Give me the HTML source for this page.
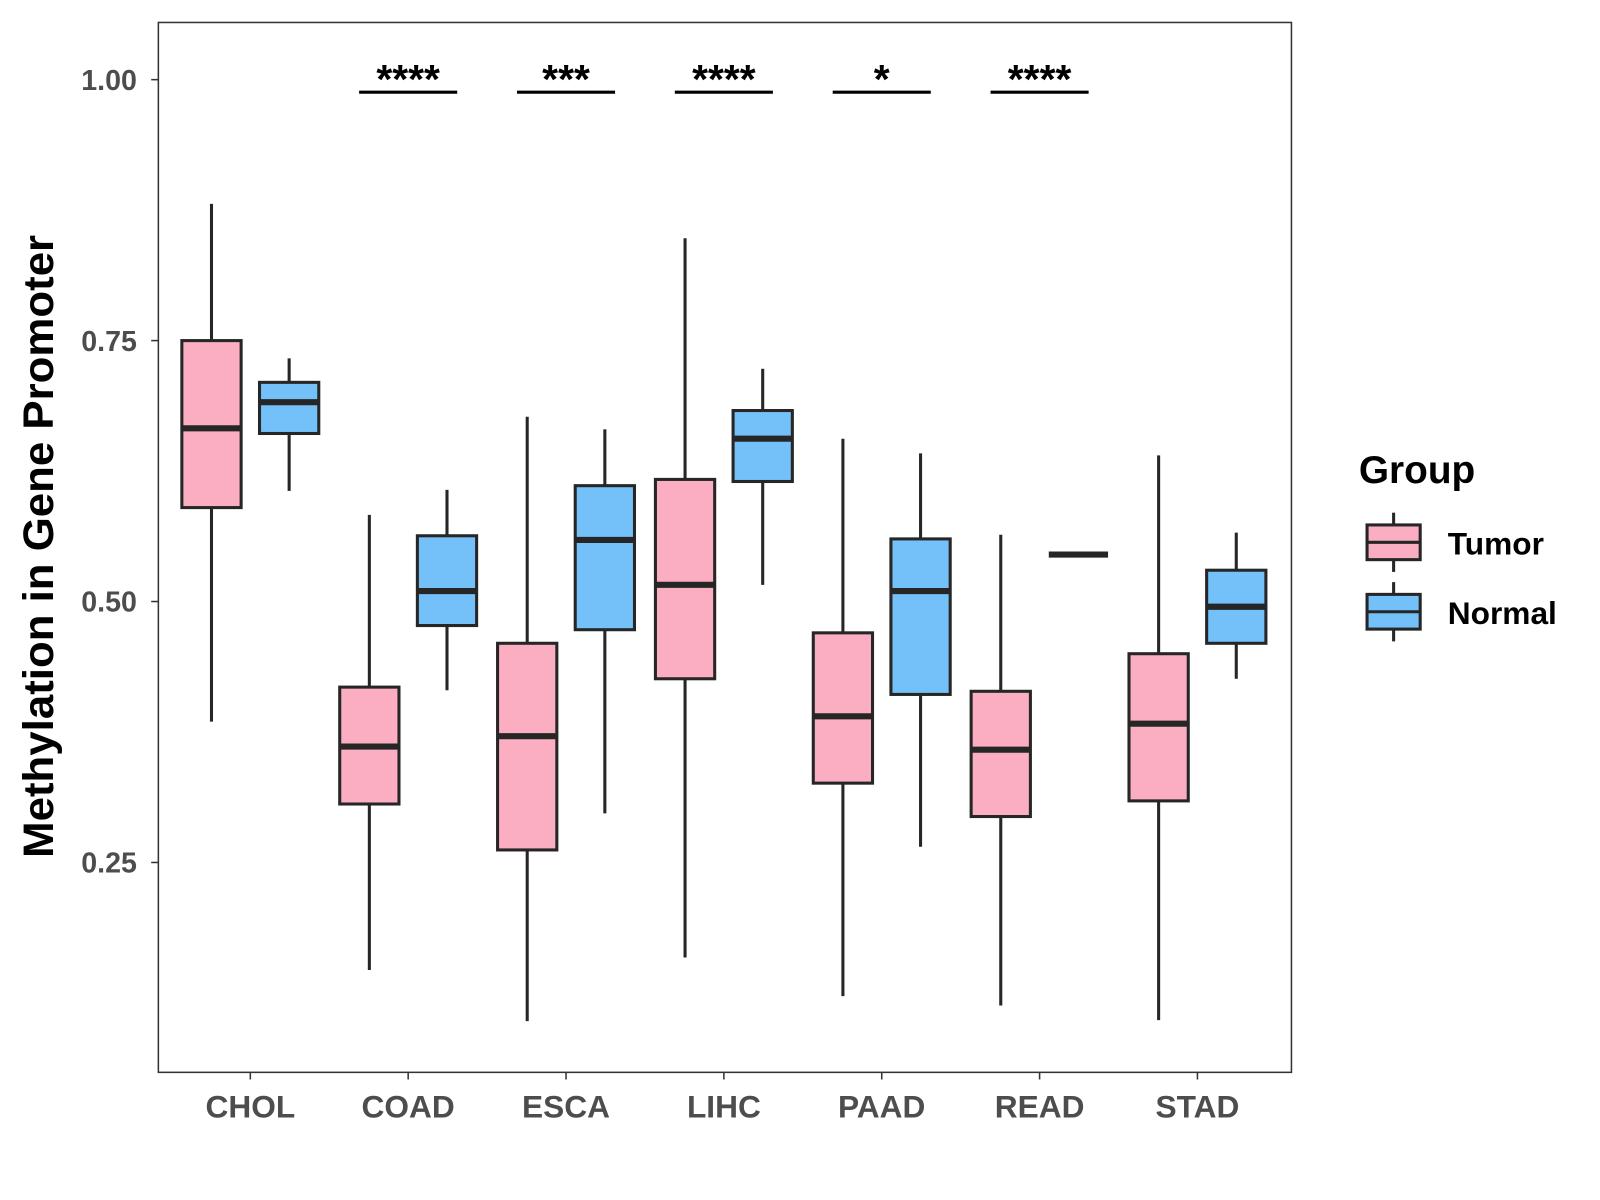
<!DOCTYPE html>
<html><head><meta charset="utf-8"><style>
html,body{margin:0;padding:0;background:#fff;}
svg{display:block;font-family:"Liberation Sans",Arial,sans-serif;}
</style></head><body>
<svg id="chart" width="1600" height="1200" viewBox="0 0 1566 1175" preserveAspectRatio="none">
<rect x="155" y="22" width="1109" height="1028" fill="#fff" stroke="#333" stroke-width="1.5"/>
<g id="axes"></g><g id="boxes"></g><g id="sig"></g>
<text x="52" y="535" transform="rotate(-90 52 535)" text-anchor="middle" font-size="42" font-weight="bold" fill="#000" textLength="610" lengthAdjust="spacingAndGlyphs">Methylation in Gene Promoter</text>
<g>
<text x="1330" y="473" font-size="38" font-weight="bold" fill="#000">Group</text>
<g>
<line x1="1364" y1="502" x2="1364" y2="560" stroke="#262626" stroke-width="3"/>
<rect x="1338" y="514" width="52" height="34" fill="#FBAEC1" stroke="#262626" stroke-width="3"/>
<line x1="1338" y1="531" x2="1390" y2="531" stroke="#262626" stroke-width="3"/>
<text x="1417" y="543" font-size="31" font-weight="bold" fill="#000">Tumor</text></g>
<g>
<line x1="1364" y1="570" x2="1364" y2="628" stroke="#262626" stroke-width="3"/>
<rect x="1338" y="582" width="52" height="34" fill="#74C0F8" stroke="#262626" stroke-width="3"/>
<line x1="1338" y1="599" x2="1390" y2="599" stroke="#262626" stroke-width="3"/>
<text x="1417" y="611" font-size="31" font-weight="bold" fill="#000">Normal</text></g>
</g>
</svg>
<script>
const categories=["CHOL","COAD","ESCA","LIHC","PAAD","READ","STAD"];
// [whiskerLow, Q1, median, Q3, whiskerHigh]
const tumorStats=[[0.385,0.590,0.666,0.750,0.881],[0.147,0.306,0.361,0.418,0.583],[0.098,0.262,0.371,0.460,0.677],[0.159,0.426,0.516,0.617,0.848],[0.122,0.326,0.390,0.470,0.656],[0.113,0.294,0.358,0.414,0.564],[0.099,0.309,0.383,0.450,0.640]];
const normalStats=[[0.606,0.661,0.691,0.710,0.733],[0.415,0.477,0.510,0.563,0.607],[0.297,0.473,0.559,0.611,0.665],[0.516,0.615,0.656,0.683,0.723],[0.265,0.411,0.510,0.560,0.642],[0.545,0.545,0.545,0.545,0.545],[0.426,0.460,0.495,0.530,0.566]];
const yTicks=[0.25,0.50,0.75,1.00];
const yTickLabels=["0.25","0.50","0.75","1.00"];
const sigLabels=["","****","***","****","*","****",""];
const sigLevel=0.988;

const NS="http://www.w3.org/2000/svg";
function y(v){return 78+(1-v)*1022;}
function x(i){return 245+i*154.5;}
function mk(tag,attrs,parent,text){const e=document.createElementNS(NS,tag);for(const k in attrs)e.setAttribute(k,attrs[k]);if(text!==undefined)e.textContent=text;parent.appendChild(e);return e;}
const axes=document.getElementById('axes'),boxes=document.getElementById('boxes'),sig=document.getElementById('sig');
yTicks.forEach((t,i)=>{
  const l=mk('line',{x1:148,x2:155,y1:y(t),y2:y(t),stroke:'#333','stroke-width':1.5},axes);
  
  
  const tx=mk('text',{x:134,y:y(t)+10,'text-anchor':'end','font-size':28,'font-weight':'bold',fill:'#4d4d4d'},axes,yTickLabels[i]);
  
  
});
categories.forEach((c,i)=>{
  const l=mk('line',{x1:x(i),x2:x(i),y1:1050,y2:1057,stroke:'#333','stroke-width':1.5},axes);
  
  
  const tx=mk('text',{x:x(i),y:1094,'text-anchor':'middle','font-size':31,'font-weight':'bold',fill:'#4d4d4d'},axes,c);
  
  
});
function drawBox(s,cx,fill,name){
  const g=mk('g',{},boxes);
  
  
  const st={stroke:'#262626','stroke-width':3};
  mk('line',Object.assign({x1:cx,x2:cx,y1:y(s[4]),y2:y(s[3])},st),g);
  mk('line',Object.assign({x1:cx,x2:cx,y1:y(s[1]),y2:y(s[0])},st),g);
  const h=Math.max(0.01,y(s[1])-y(s[3]));
  if(y(s[1])-y(s[3])>1) mk('rect',Object.assign({x:cx-29,y:y(s[3]),width:58,height:h,fill:fill},st),g);
  mk('line',{x1:cx-29,x2:cx+29,y1:y(s[2]),y2:y(s[2]),stroke:'#262626','stroke-width':6},g);
}
categories.forEach((c,i)=>{
  drawBox(tumorStats[i],x(i)-38,'#FBAEC1','box-tumor-'+c.toLowerCase());
  drawBox(normalStats[i],x(i)+38,'#74C0F8','box-normal-'+c.toLowerCase());
  if(sigLabels[i]){
    const l=mk('line',{x1:x(i)-48,x2:x(i)+48,y1:y(sigLevel),y2:y(sigLevel),stroke:'#000','stroke-width':3},sig);
    
    
    const t=mk('text',{x:x(i),y:y(sigLevel)+1,'text-anchor':'middle','font-size':40,'font-weight':'bold',fill:'#000'},sig,sigLabels[i]);
    
    
  }
});
</script>
</body></html>
